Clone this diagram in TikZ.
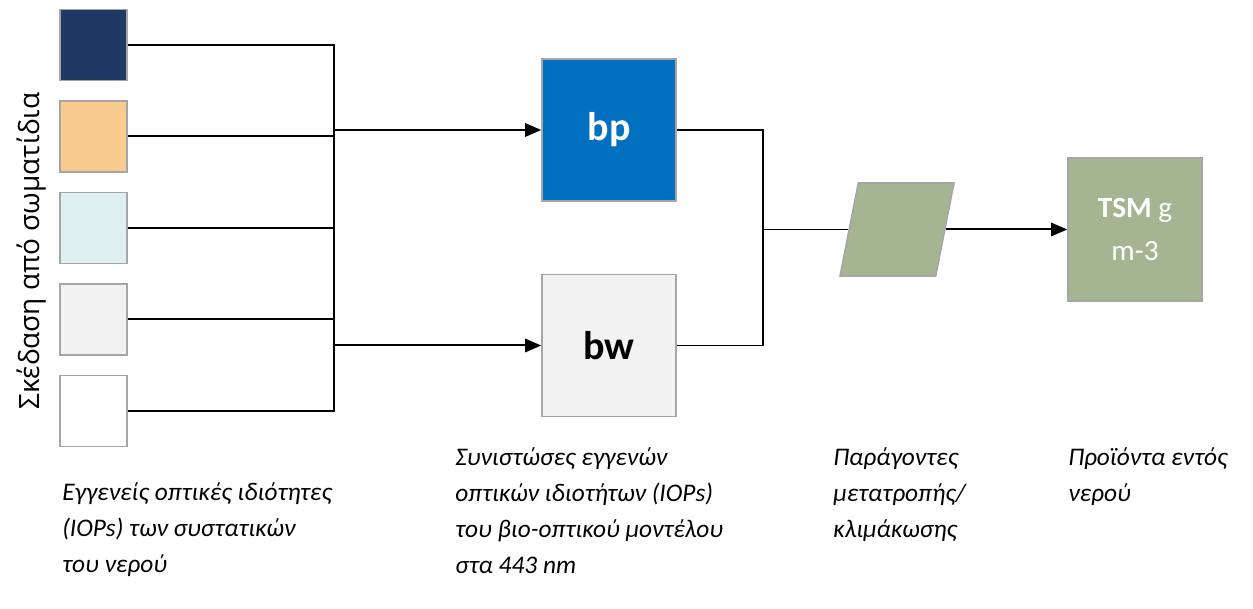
\documentclass[tikz,border=0pt]{standalone}
\usepackage{fontspec}
\setmainfont{Carlito}
\newfontfamily\labelfont{Open Sans}
\usetikzlibrary{arrows.meta,shapes.geometric}

\definecolor{navybox}{HTML}{203864}
\definecolor{peachbox}{HTML}{F8CB8F}
\definecolor{cyanbox}{HTML}{DFF0F0}
\definecolor{greybox}{HTML}{F2F2F2}
\definecolor{bpblue}{HTML}{0070C0}
\definecolor{sage}{HTML}{A5B592}
\definecolor{rim}{HTML}{A6A6A6}

\tikzset{
  iop/.style={draw=rim, line width=1.2pt, minimum width=50.25pt, minimum height=53.25pt, inner sep=0pt},
  comp/.style={draw=rim, line width=1.2pt, minimum width=100.5pt, minimum height=106.5pt, inner sep=0pt,
    font=\fontsize{30}{36}\selectfont\bfseries},
  wire/.style={line width=1.5pt},
  thinwire/.style={line width=0.8pt},
  feed/.style={line width=1.5pt, -{Triangle[length=12pt,width=10pt]}},
  caption/.style={anchor=north west, inner sep=0pt, align=left, font=\fontsize{19}{27}\selectfont\itshape}
}

\begin{document}
\begin{tikzpicture}[x=0.75pt,y=-0.75pt]
\useasboundingbox (0,0) rectangle (1253,609);

% IOPs of the water constituents
\node[iop, fill=navybox]  (c1) at (93.5,45) {};
\node[iop, fill=peachbox] (c2) at (93.5,136.5) {};
\node[iop, fill=cyanbox]  (c3) at (93.5,228) {};
\node[iop, fill=greybox]  (c4) at (93.5,319.5) {};
\node[iop, fill=white]    (c5) at (93.5,411) {};
\node[rotate=90, font=\labelfont\fontsize{21}{24}\selectfont] (scat) at (32,251) {Σκέδαση από σωματίδια};

% bio-optical components
\node[comp, fill=bpblue, text=white] (bp) at (609,130) {bp};
\node[comp, fill=greybox] (bw) at (609,345.5) {bw};

% conversion factor and product
\node[trapezium, trapezium left angle=76.7, trapezium right angle=103.3, trapezium stretches=true,
  draw=rim, line width=1.2pt, fill=sage, minimum width=85.5pt, minimum height=69.75pt, inner sep=3pt] (conv) at (897,229.5) {};
\node[draw=rim, line width=1.2pt, fill=sage, minimum width=100.5pt, minimum height=107.25pt, inner sep=0pt,
  text=white, align=center, font=\fontsize{22}{32}\selectfont] (tsm) at (1135,229.5) {\textbf{TSM} g\\m-3};

% junctions
\coordinate (j1) at (334,130);
\coordinate (j2) at (334,345.5);
\coordinate (j3) at (763,229.5);

\draw[wire] (c1.east) -| (j1);
\draw[wire] (c2.east) -| (j1);
\draw[wire] (c3.east) -| (j2);
\draw[wire] (c4.east) -| (j2);
\draw[wire] (c5.east) -| (j2);
\draw[wire] (j1) -- (j2);
\draw[feed] (j1) -- (bp.west);
\draw[feed] (j2) -- (bw.west);

\draw[thinwire] (bp.east) -| (j3);
\draw[thinwire] (bw.east) -| (j3);
\draw[thinwire] (j3) -- (conv);
\draw[feed] (conv) -- (tsm.west);

% captions
\node[caption] (t1) at (62,482) {Εγγενείς οπτικές ιδιότητες\\(IOPs) των συστατικών\\του νερού};
\node[caption] (t2) at (455,447) {Συνιστώσες εγγενών\\οπτικών ιδιοτήτων (IOPs)\\του βιο-οπτικού μοντέλου\\στα 443 nm};
\node[caption] (t3) at (833,447) {Παράγοντες\\μετατροπής/\\κλιμάκωσης};
\node[caption] (t4) at (1068,447) {Προϊόντα εντός\\νερού};
\end{tikzpicture}
\end{document}
